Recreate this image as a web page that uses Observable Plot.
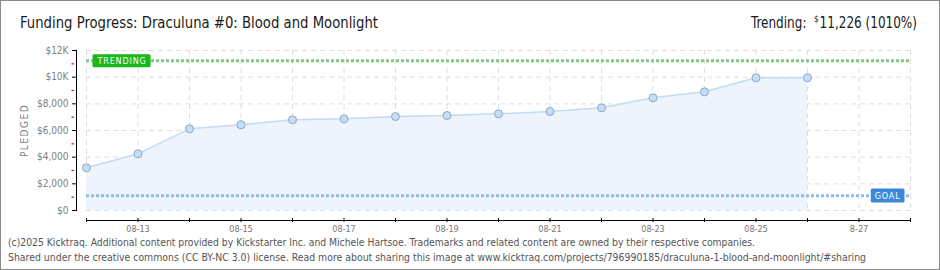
<!DOCTYPE html>
<html><head><meta charset="utf-8">
<script src="https://cdn.jsdelivr.net/npm/d3@7"></script>
<script src="https://cdn.jsdelivr.net/npm/@observablehq/plot@0.6"></script>
<style>
html,body{margin:0;padding:0;background:#fff;}
#wrap{position:relative;width:940px;height:270px;overflow:hidden;background:#fff;font-family:"DejaVu Sans Condensed","DejaVu Sans",sans-serif;}
#chart svg{position:absolute;left:0;top:0;}
#chart svg [aria-label="y-axis label"] text{letter-spacing:1.5px;}
.fit{position:absolute;white-space:nowrap;line-height:1;}
#title{left:20px;top:16px;font-size:15px;color:#1a1a1a;transform-origin:left center;}
#trend{right:23px;top:16px;font-size:15px;color:#1a1a1a;transform-origin:right center;}
#trend sup{font-size:9px;vertical-align:top;position:relative;top:-1px;margin-right:1px;}
.foot{left:8px;font-size:10px;color:#555;transform-origin:left center;}
#f1{top:238px;}
#f2{top:253px;}
#border{position:absolute;left:0;top:0;right:0;bottom:0;border:1px solid #8a8a8a;pointer-events:none;}
</style>
</head><body>
<div id="wrap">
  <div id="chart"></div>
  <div id="title" class="fit" data-w="358">Funding Progress: Draculuna #0: Blood and Moonlight</div>
  <div id="trend" class="fit" data-w="166">Trending:&nbsp; <sup>$</sup>11,226 (1010%)</div>
  <div id="f1" class="fit foot" data-w="747">(c)2025 Kicktraq. Additional content provided by Kickstarter Inc. and Michele Hartsoe. Trademarks and related content are owned by their respective companies.</div>
  <div id="f2" class="fit foot" data-w="858">Shared under the creative commons (CC BY-NC 3.0) license. Read more about sharing this image at www.kicktraq.com/projects/796990185/draculuna-1-blood-and-moonlight/#sharing</div>
  <div id="border"></div>
</div>
<script>
// ---- data ----
const dates = ["2025-08-12","2025-08-13","2025-08-14","2025-08-15","2025-08-16","2025-08-17","2025-08-18","2025-08-19","2025-08-20","2025-08-21","2025-08-22","2025-08-23","2025-08-24","2025-08-25","2025-08-26"];
const pledged = [3200, 4250, 6125, 6425, 6800, 6875, 7050, 7125, 7250, 7425, 7700, 8450, 8900, 9950, 9950];
const goal = 1111;
const trending = 11226;
const xDomain = ["2025-08-12", "2025-08-28"];
const yTicks = [0, 2000, 4000, 6000, 8000, 10000, 12000];
const yTickLabels = ["$0", "$2,000", "$4,000", "$6,000", "$8,000", "$10K", "$12K"];
const yMinorTicks = [1000, 3000, 5000, 7000, 9000, 11000];
const xLabelDates = ["2025-08-13","2025-08-15","2025-08-17","2025-08-19","2025-08-21","2025-08-23","2025-08-25","2025-08-27"];
const xTickLabels = ["08-13","08-15","08-17","08-19","08-21","08-23","08-25","8-27"];

// ---- build ----
const parse = d3.utcParse("%Y-%m-%d");
const data = dates.map((d, i) => ({date: parse(d), value: pledged[i]}));
const x0 = parse(xDomain[0]), x1 = parse(xDomain[1]);
const days = d3.utcDay.range(x0, d3.utcDay.offset(x1, 1));
const labelDates = xLabelDates.map(parse);
const fmtX = new Map(labelDates.map((d, i) => [+d, xTickLabels[i]]));
const fmtY = new Map(yTicks.map((v, i) => [v, yTickLabels[i]]));
const font = '"DejaVu Sans Condensed","DejaVu Sans",sans-serif';

const chart = Plot.plot({
  width: 940, height: 270,
  marginTop: 50, marginBottom: 60, marginLeft: 76, marginRight: 30,
  style: {fontFamily: font, fontSize: "9px", background: "transparent", overflow: "visible"},
  x: {type: "utc", domain: [x0, x1], range: [86, 910]},
  y: {domain: [0, 12000]},
  marks: [
    Plot.gridX(days, {stroke: "#dedede", strokeOpacity: 1, strokeDasharray: "5,4"}),
    Plot.ruleY(yTicks, {x1: () => x0, x2: () => x1, stroke: "#dedede", strokeDasharray: "5,4"}),
    Plot.areaY(data, {x: "date", y: "value", fill: "#edf4fc"}),
    Plot.lineY(data, {x: "date", y: "value", stroke: "#c3dbf5", strokeWidth: 1.5}),
    Plot.ruleY([trending], {x1: () => x0, x2: () => x1, stroke: "#7fcc7f", strokeWidth: 3, strokeDasharray: "3,2"}),
    Plot.ruleY([goal], {x1: () => x0, x2: () => x1, stroke: "#8dbbea", strokeWidth: 3, strokeDasharray: "3,2"}),
    Plot.dot(data, {x: "date", y: "value", r: 4, fill: "#c6ddf6", stroke: "#8ea8c8", strokeWidth: 1}),
    Plot.frame({anchor: "left", stroke: "#000"}),
    Plot.axisY({ticks: yTicks, tickSize: 4, tickPadding: 4, tickFormat: v => fmtY.get(v), fill: "#808080", stroke: "#000", fontSize: 10,
      label: "PLEDGED", labelAnchor: "center", labelOffset: 56, labelArrow: "none"}),
    Plot.axisY({ticks: yMinorTicks, tickSize: 2.5, dx: -2, stroke: "#ff0000", strokeOpacity: 1, strokeWidth: 1.2, tickFormat: () => "", label: null}),
    Plot.ruleY([0], {x1: () => x0, x2: () => x1, dy: 10, stroke: "#000"}),
    Plot.axisX({ticks: days, tickSize: 4, dy: 8, stroke: "#000", tickFormat: () => "", label: null}),
    Plot.axisX({ticks: labelDates, tickSize: 0, tickPadding: 0, dy: 15, fill: "#777", tickFormat: d => fmtX.get(+d), label: null}),
    Plot.text([trending], {x: () => x0, y: d => d, text: () => "TRENDING", textAnchor: "start", dx: 11, fill: "#fff", fontSize: 9, letterSpacing: 0.6, className: "badge-t"}),
    Plot.text([goal], {x: () => x1, y: d => d, text: () => "GOAL", textAnchor: "end", dx: -10, fill: "#fff", fontSize: 9, className: "badge-g"})
  ]
});
document.getElementById("chart").appendChild(chart);

// letter spacing for badge texts
chart.querySelectorAll("g.badge-t text, g.badge-g text").forEach(t => t.style.letterSpacing = "0.8px");

// badge backgrounds (placed under each badge text, in the text's own coordinate frame)
function badge(cls, color, padX, padY) {
  chart.querySelectorAll("g." + cls + " text").forEach(t => {
    const bb = t.getBBox();
    const r = document.createElementNS("http://www.w3.org/2000/svg", "rect");
    r.setAttribute("x", bb.x - padX); r.setAttribute("y", bb.y - padY);
    r.setAttribute("width", bb.width + 2 * padX); r.setAttribute("height", bb.height + 2 * padY);
    r.setAttribute("rx", 1.5); r.setAttribute("fill", color);
    const tr = t.getAttribute("transform");
    if (tr) r.setAttribute("transform", tr);
    t.parentNode.insertBefore(r, t);
  });
}
badge("badge-t", "#19b719", 4, 1.5);
badge("badge-g", "#3b88d8", 4, 2);

// fit text widths
document.querySelectorAll(".fit[data-w]").forEach(el => {
  const w = el.getBoundingClientRect().width;
  const target = +el.dataset.w;
  if (w > 0) el.style.transform = `scaleX(${target / w})`;
});
</script>
</body></html>
